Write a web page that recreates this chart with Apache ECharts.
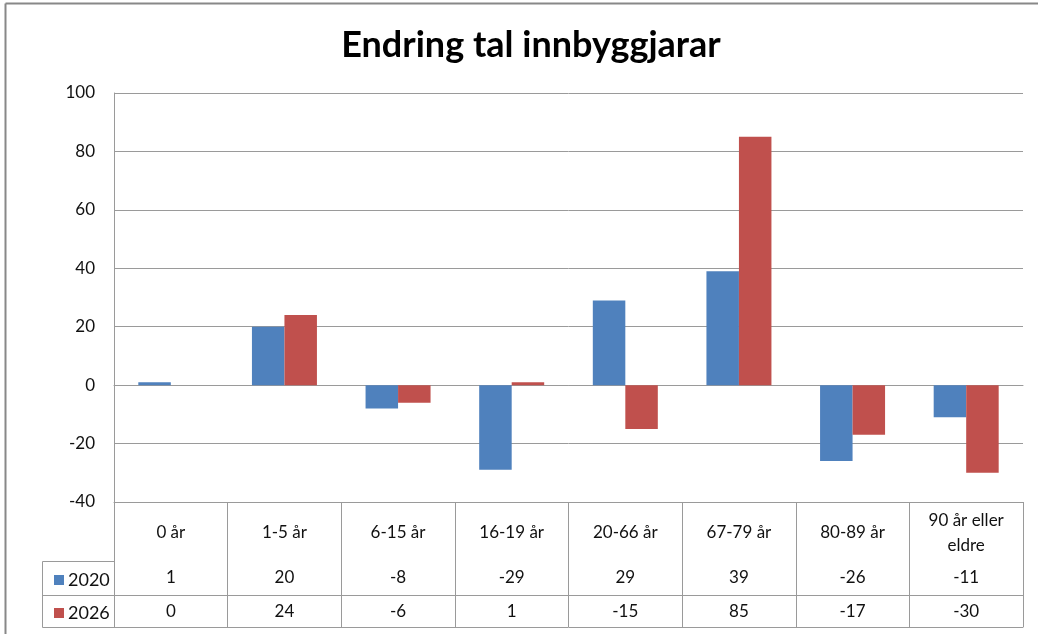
<!DOCTYPE html>
<html>
<head>
<meta charset="utf-8">
<script src="https://cdn.jsdelivr.net/npm/echarts@6/dist/echarts.min.js"></script>
<style>
  html, body { margin: 0; padding: 0; background: #fff; }
  #chart { width: 1038px; height: 634px; }
</style>
</head>
<body>
<div id="chart"></div>
<script>
// data
const categories = ['0 år', '1-5 år', '6-15 år', '16-19 år', '20-66 år', '67-79 år', '80-89 år', '90 år eller\neldre'];
const seriesNames = ['2020', '2026'];
const values2020 = [1, 20, -8, -29, 29, 39, -26, -11];
const values2026 = [0, 24, -6, 1, -15, 85, -17, -30];
const yTicks = { min: -40, max: 100, interval: 20 };

const blue = '#4F81BD';
const red = '#C0504D';
const lineColor = '#9a9a9a';
const font = 'Lato, "Open Sans", sans-serif';

const chart = echarts.init(document.getElementById('chart'), null, { renderer: 'canvas' });

// extra axes draw the data table rows under the plot
function tableAxis(offset, rowValues) {
  return {
    type: 'category',
    data: categories,
    position: 'bottom',
    offset: offset,
    axisLine: { show: true, lineStyle: { color: lineColor, width: 1 } },
    axisTick: { show: false },
    axisLabel: {
      show: !!rowValues,
      interval: 0,
      margin: 17,
      verticalAlign: 'middle',
      color: '#111',
      fontFamily: font,
      fontSize: 17,
      formatter: (v, i) => rowValues ? String(rowValues[i]) : ''
    },
    splitLine: { show: false }
  };
}

function rowLegend(name, top) {
  return {
    data: [name],
    orient: 'vertical',
    left: 49, top: top,
    icon: 'rect', itemWidth: 10, itemHeight: 10,
    textStyle: { fontFamily: font, fontSize: 18, color: '#111', padding: [0, 0, 0, -1] }
  };
}

chart.setOption({
  animation: false,
  backgroundColor: '#fff',
  title: {
    text: 'Endring tal innbyggjarar',
    left: 526,
    top: 22,
    textAlign: 'center',
    textStyle: { fontFamily: font, fontWeight: 'bold', fontSize: 36, color: '#000' }
  },
  legend: [rowLegend(seriesNames[0], 566), rowLegend(seriesNames[1], 599)],
  grid: { left: 114, right: 15, top: 93, bottom: 132 },
  xAxis: [
    {
      type: 'category',
      data: categories,
      position: 'bottom',
      axisLine: { onZero: false, show: true, lineStyle: { color: lineColor, width: 1 } },
      axisTick: { show: true, interval: 0, length: 125, lineStyle: { color: lineColor, width: 1 } },
      axisLabel: {
        interval: 0,
        margin: 31,
        verticalAlign: 'middle',
        lineHeight: 25,
        color: '#111',
        fontFamily: font,
        fontSize: 17
      }
    },
    tableAxis(59, values2020),
    tableAxis(93, values2026),
    tableAxis(125, null)
  ],
  yAxis: {
    type: 'value',
    min: yTicks.min,
    max: yTicks.max,
    interval: yTicks.interval,
    axisLine: { show: true, lineStyle: { color: lineColor, width: 1 } },
    axisTick: { show: false },
    axisLabel: { margin: 19, color: '#111', fontFamily: font, fontSize: 17 },
    splitLine: { lineStyle: { color: lineColor, width: 1 } }
  },
  series: [
    {
      name: seriesNames[0],
      type: 'bar',
      data: values2020,
      barWidth: 32.5,
      barGap: '0%',
      itemStyle: { color: blue }
    },
    {
      name: seriesNames[1],
      type: 'bar',
      data: values2026,
      barWidth: 32.5,
      barGap: '0%',
      itemStyle: { color: red }
    }
  ],
  // outer chart border and the legend column of the data table
  graphic: [
    { type: 'line', shape: { x1: 5.5, y1: 3.5, x2: 1038, y2: 3.5 }, style: { stroke: '#888', lineWidth: 2 } },
    { type: 'line', shape: { x1: 5.5, y1: 3.5, x2: 5.5, y2: 634 }, style: { stroke: '#888', lineWidth: 2 } },
    { type: 'line', shape: { x1: 42.5, y1: 561.5, x2: 114, y2: 561.5 }, style: { stroke: lineColor, lineWidth: 1 } },
    { type: 'line', shape: { x1: 42.5, y1: 595.5, x2: 114, y2: 595.5 }, style: { stroke: lineColor, lineWidth: 1 } },
    { type: 'line', shape: { x1: 42.5, y1: 627.5, x2: 114, y2: 627.5 }, style: { stroke: lineColor, lineWidth: 1 } },
    { type: 'line', shape: { x1: 42.5, y1: 561.5, x2: 42.5, y2: 627.5 }, style: { stroke: lineColor, lineWidth: 1 } }
  ]
});
</script>
</body>
</html>
